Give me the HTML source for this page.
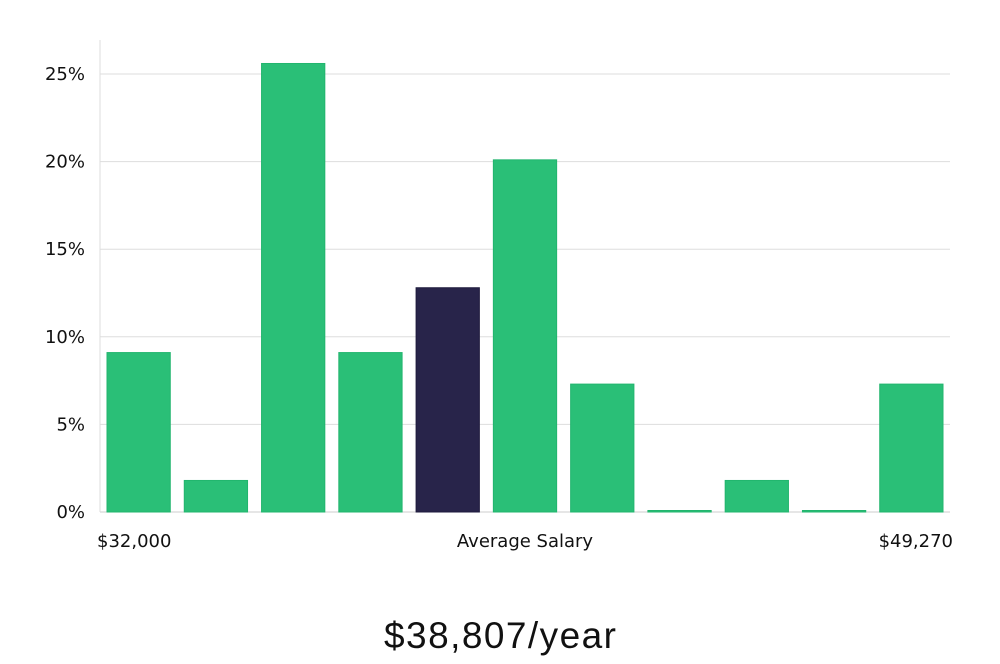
<!DOCTYPE html>
<html><head><meta charset="utf-8">
<style>
body{margin:0;background:#fff;width:1000px;height:660px;overflow:hidden;font-family:"DejaVu Sans","Liberation Sans",sans-serif;}
</style></head>
<body>
<svg width="1000" height="660">
<g id="grid"></g>
<g id="bars"></g>
<g id="labels"></g>
<text x="500" y="648" text-anchor="middle" font-size="37" fill="#111" font-family="'Liberation Sans',sans-serif" textLength="232">$38,807/year</text>
</svg>
<script>
const categories=["b1","b2","b3","b4","b5","b6","b7","b8","b9","b10","b11"];
const values=[9.1,1.8,25.6,9.1,12.8,20.1,7.3,0,1.8,0,7.3];
const highlight=[false,false,false,false,true,false,false,false,false,false,false];
const yTicks=[0,5,10,15,20,25];
const yTickLabels=["0%","5%","10%","15%","20%","25%"];
const xLabels=["$32,000","Average Salary","$49,270"];
const NS="http://www.w3.org/2000/svg";
const x0=100,x1=950,y0=512,pxPer=(512-74)/25;
const y=v=>y0-v*pxPer;
const slot=(x1-x0)/categories.length;
function mk(t,a,p){const e=document.createElementNS(NS,t);for(const k in a)e.setAttribute(k,a[k]);p.appendChild(e);return e;}
const g=document.getElementById('grid');
yTicks.forEach((t,i)=>{
 const l=mk('line',{x1:x0,x2:x1,y1:y(t),y2:y(t),stroke:t===0?'#ccc':'#ddd','stroke-width':1},g);
 
 
 const tx=mk('text',{x:85,y:y(t)+6,'text-anchor':'end','font-size':18,fill:'#111'},g);
 tx.textContent=yTickLabels[i];
 
 
});
const ax=mk('line',{x1:x0,x2:x0,y1:40,y2:y0,stroke:'#ddd'},g);


const b=document.getElementById('bars');
values.forEach((v,i)=>{
 const h=Math.max(y0-y(v),1.5);
 const r=mk('rect',{x:x0+i*slot+7,y:y0-h,width:slot-14,height:h,fill:highlight[i]?'#28244a':'#2abf77',stroke:highlight[i]?'#1e1a3c':'#22b56e','stroke-width':1},b);
 
 
});
const lb=document.getElementById('labels');
[[97,'start'],[525,'middle'],[953,'end']].forEach((p,i)=>{
 const t=mk('text',{x:p[0],y:547,'text-anchor':p[1],'font-size':18,fill:'#111'},lb);
 t.textContent=xLabels[i];
 
 
});
</script>
</body></html>
